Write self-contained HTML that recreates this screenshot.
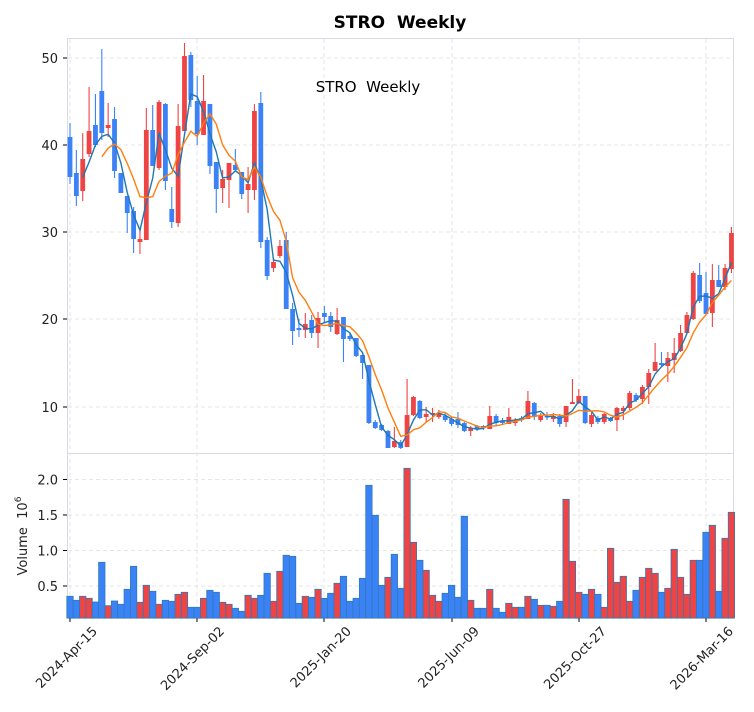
<!DOCTYPE html>
<html><head><meta charset="utf-8"><style>
body{margin:0;background:#fff;}
svg{display:block;font-family:"DejaVu Sans","Liberation Sans",sans-serif;}
svg text{white-space:pre;}
</style></head><body>
<svg id="s" width="754" height="712" xmlns="http://www.w3.org/2000/svg"></svg>
<script>
var C=[[137,177,123,184,'b'],[173,196,150,206,'b'],[159,191,133,201,'r'],[131,154,87,157,'r'],[125,145,94,147,'b'],[91,133,49,140,'b'],[125,128,103,137,'r'],[119,171,107,178,'b'],[173,193,173,193,'b'],[196,213,196,233,'b'],[211,239,207,253,'b'],[239,242,230,254,'r'],[130,240,108,240,'r'],[130,166,105,166,'b'],[102,168,100,170,'r'],[104,181,103,190,'b'],[209,222,187,228,'b'],[126,223,104,227,'r'],[56,131,43,131,'r'],[55,100,52,107,'b'],[101,134,76,145,'b'],[101,135,75,135,'r'],[104,166,104,174,'b'],[162,189,162,213,'b'],[179,188,170,203,'r'],[163,180,163,208,'r'],[165,170,149,170,'b'],[172,194,172,199,'b'],[184,190,167,213,'r'],[111,190,104,200,'r'],[103,242,92,248,'b'],[240,276,237,280,'b'],[262,268,258,272,'r'],[246,256,240,258,'r'],[240,309,232,309,'b'],[309,331,303,345,'b'],[328,330,319,337,'b'],[324,330,313,338,'r'],[320,333,315,338,'b'],[318,333,312,348,'r'],[313,317,306,323,'b'],[316,327,312,332,'b'],[320,334,308,335,'r'],[317,339,317,362,'b'],[336,339,333,341,'b'],[338,356,338,357,'b'],[355,363,355,379,'b'],[365,423,365,424,'b'],[422,428,420,429,'b'],[425,430,424,431,'b'],[431,448,430,448,'b'],[441,447,427,448,'r'],[442,448,440,449,'b'],[415,447,379,447,'r'],[397,415,396,416,'r'],[401,418,400,419,'b'],[414,417,407,422,'r'],[413,414,408,422,'r'],[413,417,410,419,'r'],[416,420,413,422,'b'],[419,424,417,426,'b'],[419,425,412,428,'b'],[423,431,422,432,'b'],[428,431,426,436,'r'],[426,429,425,431,'b'],[426,428,425,430,'b'],[416,429,406,429,'r'],[416,423,414,426,'b'],[421,423,418,425,'b'],[417,424,408,424,'r'],[420,423,418,426,'r'],[418,420,416,422,'b'],[401,419,391,419,'r'],[403,417,402,420,'b'],[416,420,413,422,'r'],[416,417,412,420,'b'],[416,419,413,422,'r'],[416,424,414,427,'b'],[406,422,406,427,'r'],[402,404,379,404,'r'],[396,403,389,404,'r'],[396,423,396,424,'b'],[415,424,412,427,'r'],[418,422,416,424,'b'],[414,422,413,424,'r'],[418,421,417,422,'b'],[408,420,407,431,'r'],[408,411,406,420,'r'],[393,408,391,410,'r'],[395,400,393,402,'b'],[387,399,385,404,'r'],[373,387,369,404,'r'],[362,371,343,371,'r'],[363,365,352,367,'b'],[358,366,352,382,'r'],[353,360,338,373,'r'],[333,351,325,352,'r'],[315,333,312,334,'r'],[273,319,271,320,'r'],[275,301,263,303,'b'],[293,314,272,315,'b'],[280,313,264,327,'r'],[280,287,265,287,'b'],[268,287,264,290,'r'],[233,269,227,273,'r']];
var V1=[424,436,424,430,441,322,452,438,448,403,334,442,391,409,448,436,439,418,412,457,457,430,406,412,442,448,460,469,421,430,421,355,439,349,301,304,445,424,427,403,430,415,385,364,439,430,370,91,181,391,367,298];
var V1c="bbrrbbrbbbbrrbrbbrrbbrbbrrbbrrbbrrbbbrbrbbrbbbbbbbr";
var V2=[[400,'b'],[40,'r'],[262,'r'],[316,'b'],[346,'r'],[421,'r'],[439,'r'],[415,'b'],[391,'b'],[427,'b'],[184,'b'],[436,'r'],[460,'b'],[460,'b'],[403,'r'],[460,'b'],[472,'b'],[445,'r'],[457,'r'],[457,'b'],[424,'r'],[433,'b'],[451,'r'],[451,'b'],[454,'r'],[439,'b'],[133,'r'],[319,'r'],[412,'r'],[418,'b'],[403,'r'],[418,'b'],[457,'r'],[280,'r'],[382,'r'],[364,'r'],[439,'r'],[406,'b'],[367,'r'],[340,'r'],[355,'r'],[412,'b'],[400,'r'],[283,'r'],[367,'r'],[418,'r'],[316,'r'],[316,'b'],[232,'b'],[211,'r'],[409,'b'],[250,'r'],[172,'r']];
var RED='#ef4444',BLUE='#3b82f6',EDGE='#2f7ab8';
var h='';
function X(i){return 70+6.36*i;}
h+='<rect x="67.5" y="38.5" width="666" height="580" fill="#fff" stroke="#d8dbe3"/>';
h+='<line x1="67" y1="453.5" x2="734" y2="453.5" stroke="#d8dbe3"/>';
var yt=[[50,58],[40,145],[30,232],[20,319],[10,407]];
yt.forEach(function(t){h+='<line x1="68" x2="733" y1="'+t[1]+'" y2="'+t[1]+'" stroke="#e6e6e6" stroke-dasharray="4,3"/>';h+='<line x1="63" x2="67" y1="'+t[1]+'" y2="'+t[1]+'" stroke="#000"/>';h+='<text x="58" y="'+(t[1]+5)+'" font-size="13" text-anchor="end" fill="#222">'+t[0]+'</text>';});
var vt=[['2.0',479.5],['1.5',515],['1.0',550.5],['0.5',586]];
vt.forEach(function(t){h+='<line x1="68" x2="733" y1="'+t[1]+'" y2="'+t[1]+'" stroke="#e6e6e6" stroke-dasharray="4,3"/>';h+='<line x1="63" x2="67" y1="'+t[1]+'" y2="'+t[1]+'" stroke="#000"/>';h+='<text x="58" y="'+(t[1]+5)+'" font-size="13" text-anchor="end" fill="#222">'+t[0]+'</text>';});
var xt=[[70,'2024-Apr-15'],[197,'2024-Sep-02'],[324,'2025-Jan-20'],[452,'2025-Jun-09'],[579,'2025-Oct-27'],[706,'2026-Mar-16']];
xt.forEach(function(t){h+='<line x1="'+t[0]+'" x2="'+t[0]+'" y1="39" y2="617" stroke="#e6e6e6" stroke-dasharray="4,3"/>';h+='<line x1="'+t[0]+'" x2="'+t[0]+'" y1="618" y2="622" stroke="#000"/>';var ax=t[0]+28,ay=632;h+='<text x="'+ax+'" y="'+ay+'" font-size="13" text-anchor="end" fill="#222" transform="rotate(-45 '+ax+' '+ay+')">'+t[1]+'</text>';});
var V=[];for(var i=0;i<V1.length;i++)V.push([V1[i],V1c[i]]);for(var j=0;j<V2.length;j++)V.push(V2[j]);
V.forEach(function(v,i){var top=455+v[0]/3;var x=X(i)-3.18;h+='<rect x="'+x.toFixed(2)+'" y="'+top.toFixed(1)+'" width="6.36" height="'+(618-top).toFixed(1)+'" fill="'+(v[1]=='r'?RED:BLUE)+'" stroke="'+EDGE+'" stroke-width="0.8"/>';});
C.forEach(function(c,i){var x=X(i),col=c[4]=='r'?RED:BLUE;h+='<line x1="'+x+'" x2="'+x+'" y1="'+c[2]+'" y2="'+c[3]+'" stroke="'+col+'" stroke-width="1.1"/>';var bh=Math.max(c[1]-c[0],1.5);h+='<rect x="'+(x-2.4)+'" y="'+c[0]+'" width="4.8" height="'+bh+'" fill="'+col+'"/>';});
var cl=C.map(function(c){return c[4]=='r'?c[0]:c[1];});
function ma(n,col){var p='';for(var i=n-1;i<cl.length;i++){var s=0;for(var k=0;k<n;k++)s+=cl[i-k];p+=(p?'L':'M')+X(i).toFixed(1)+' '+(s/n).toFixed(1);}h+='<path d="'+p+'" fill="none" stroke="'+col+'" stroke-width="1.4"/>';}
ma(3,'#1f77b4');ma(6,'#ff7f0e');
h+='<text x="400" y="28" font-size="17" font-weight="bold" text-anchor="middle" fill="#000" xml:space="preserve">STRO  Weekly</text>';
h+='<text x="368" y="92" font-size="15" text-anchor="middle" fill="#000" xml:space="preserve">STRO  Weekly</text>';
h+='<text transform="translate(27 536) rotate(-90)" font-size="13" text-anchor="middle" fill="#222" xml:space="preserve">Volume  10<tspan dy="-6" font-size="9">6</tspan></text>';
document.getElementById('s').innerHTML=h;
</script>
</body></html>
